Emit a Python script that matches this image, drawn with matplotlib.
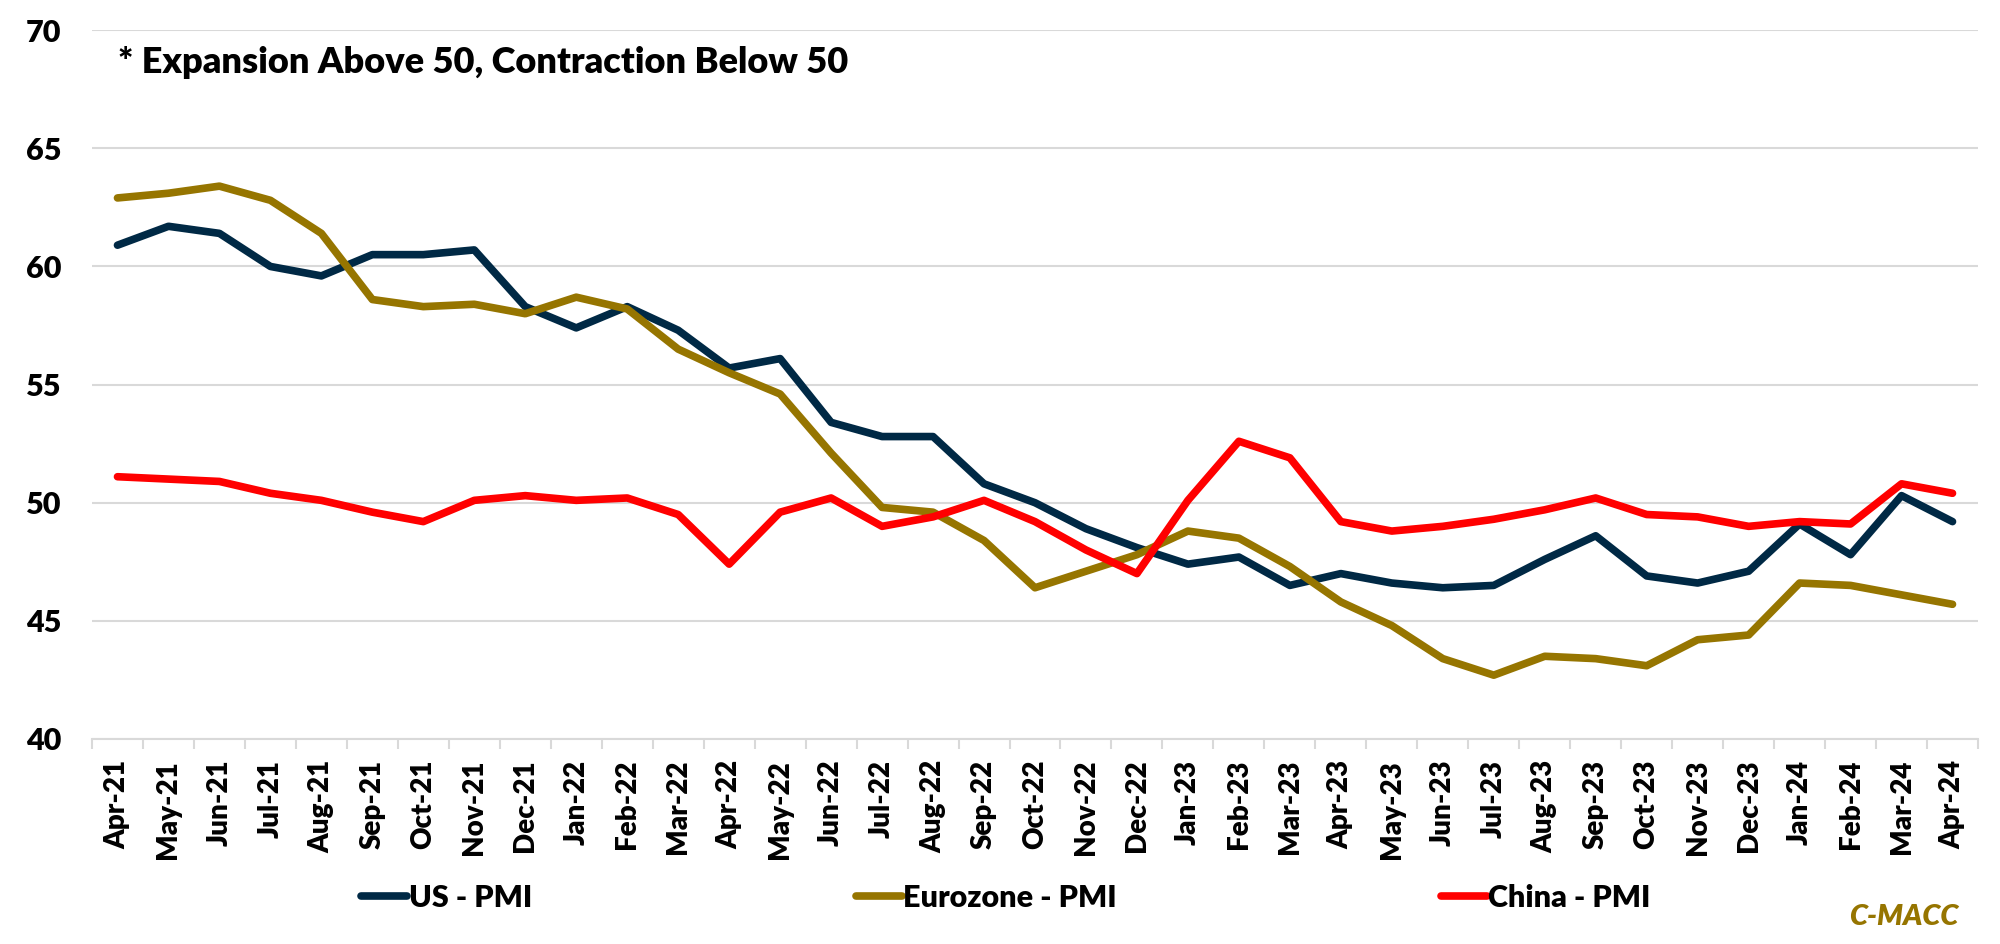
import matplotlib.pyplot as plt
from matplotlib.ticker import FixedLocator

months = ["Apr-21", "May-21", "Jun-21", "Jul-21", "Aug-21", "Sep-21", "Oct-21",
          "Nov-21", "Dec-21", "Jan-22", "Feb-22", "Mar-22", "Apr-22", "May-22",
          "Jun-22", "Jul-22", "Aug-22", "Sep-22", "Oct-22", "Nov-22", "Dec-22",
          "Jan-23", "Feb-23", "Mar-23", "Apr-23", "May-23", "Jun-23", "Jul-23",
          "Aug-23", "Sep-23", "Oct-23", "Nov-23", "Dec-23", "Jan-24", "Feb-24",
          "Mar-24", "Apr-24"]

us_pmi = [60.9, 61.7, 61.4, 60.0, 59.6, 60.5, 60.5, 60.7, 58.3, 57.4, 58.3, 57.3,
          55.7, 56.1, 53.4, 52.8, 52.8, 50.8, 50.0, 48.9, 48.1, 47.4, 47.7, 46.5,
          47.0, 46.6, 46.4, 46.5, 47.6, 48.6, 46.9, 46.6, 47.1, 49.1, 47.8, 50.3,
          49.2]

euro_pmi = [62.9, 63.1, 63.4, 62.8, 61.4, 58.6, 58.3, 58.4, 58.0, 58.7, 58.2, 56.5,
            55.5, 54.6, 52.1, 49.8, 49.6, 48.4, 46.4, 47.1, 47.8, 48.8, 48.5, 47.3,
            45.8, 44.8, 43.4, 42.7, 43.5, 43.4, 43.1, 44.2, 44.4, 46.6, 46.5, 46.1,
            45.7]

china_pmi = [51.1, 51.0, 50.9, 50.4, 50.1, 49.6, 49.2, 50.1, 50.3, 50.1, 50.2, 49.5,
             47.4, 49.6, 50.2, 49.0, 49.4, 50.1, 49.2, 48.0, 47.0, 50.1, 52.6, 51.9,
             49.2, 48.8, 49.0, 49.3, 49.7, 50.2, 49.5, 49.4, 49.0, 49.2, 49.1, 50.8,
             50.4]

y_ticks = [40, 45, 50, 55, 60, 65, 70]

plt.rcParams['font.family'] = ['Lato', 'DejaVu Sans']
plt.rcParams['font.weight'] = 'heavy'

fig = plt.figure(figsize=(20, 9.44), dpi=100)
ax = fig.add_axes([0.046, 0.2172, 0.943, 0.7508])

x = range(len(months))
style = dict(lw=5.5, solid_capstyle='round', solid_joinstyle='round')
ax.plot(x, us_pmi, color="#002945", label="US - PMI", **style)
ax.plot(x, euro_pmi, color="#967500", label="Eurozone - PMI", **style)
ax.plot(x, china_pmi, color="#FF0000", label="China - PMI", **style)

ax.set_ylim(40, 70)
ax.set_xlim(-0.5, len(months) - 0.5)
ax.set_yticks(y_ticks)
ax.set_yticklabels([str(v) for v in y_ticks], fontsize=22, fontweight='heavy')
ax.set_xticks(list(x))
ax.set_xticklabels(months, rotation=90, fontsize=20, fontweight='heavy')
ax.xaxis.set_minor_locator(FixedLocator([i - 0.5 for i in range(len(months) + 1)]))

ax.grid(axis='y', color="#D9D9D9", lw=1.5)
ax.set_axisbelow(True)
for side in ["top", "right", "left"]:
    ax.spines[side].set_visible(False)
ax.spines["bottom"].set_color("#D9D9D9")
ax.spines["bottom"].set_linewidth(1.5)

ax.tick_params(axis='y', length=0, pad=22)
ax.tick_params(axis='x', which='major', length=0, pad=15)
ax.tick_params(axis='x', which='minor', length=7.5, width=1.5, color="#D9D9D9")

ax.text(0.0139, 0.955, "* Expansion Above 50, Contraction Below 50",
        transform=ax.transAxes, fontsize=26, fontweight='heavy', va='center',
        ha='left')

fig.legend(loc='center', bbox_to_anchor=(0.503, 0.049), ncol=3, frameon=False,
           prop={'size': 22, 'weight': 'heavy'}, handlelength=1.5,
           handletextpad=0.05, columnspacing=10.6)

fig.text(0.979, 0.029, "C-MACC", color="#967500", fontsize=21,
         fontweight='heavy', fontstyle='italic', ha='right', va='center')

fig.savefig("out.png", dpi=100)
